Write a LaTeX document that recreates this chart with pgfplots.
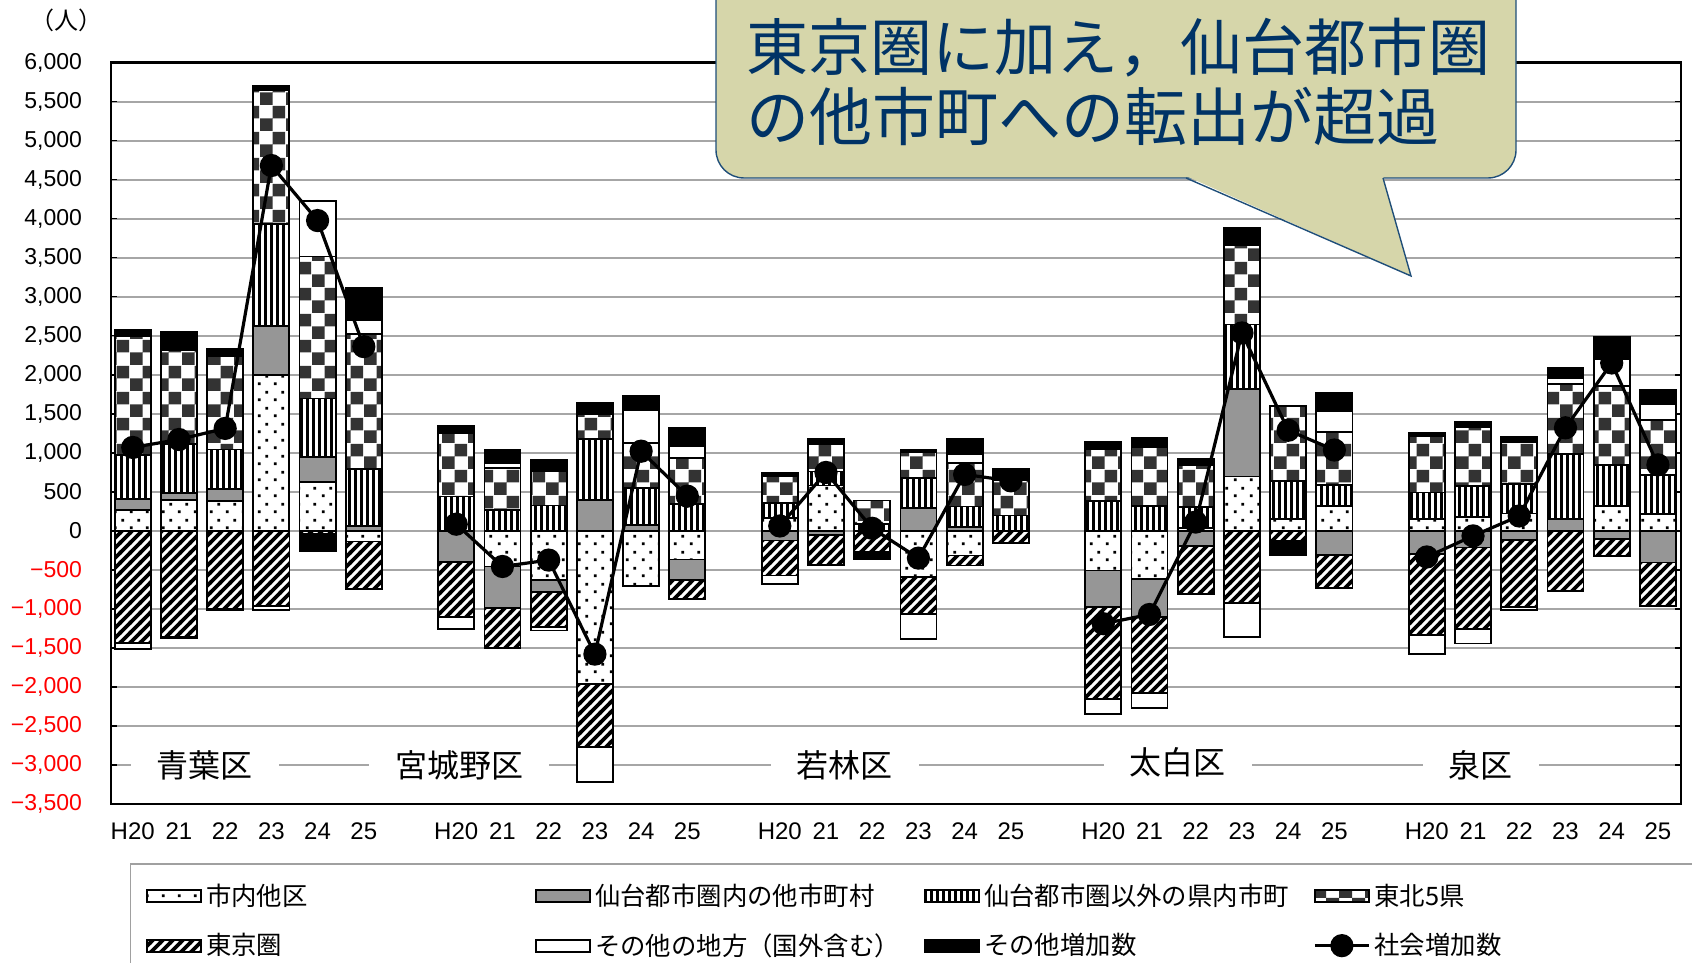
\documentclass[border=0pt]{standalone}
\usepackage{fontspec}
\setmainfont{Noto Sans CJK JP}
\newfontfamily\lsans{Liberation Sans}
\usepackage{pgfplots}
\usepackage{pgfplotstable}
\pgfplotsset{compat=1.18}
\usetikzlibrary{patterns}

\definecolor{gridc}{RGB}{166,166,166}
\definecolor{graybar}{RGB}{150,150,150}
\definecolor{checkc}{RGB}{51,51,51}
\definecolor{bubblefill}{RGB}{214,214,170}
\definecolor{bubbleline}{RGB}{31,78,121}
\definecolor{bubbletext}{RGB}{0,51,102}
\definecolor{legline}{RGB}{160,160,160}

\pgfdeclarepatternformonly{sdots}{\pgfqpoint{0pt}{0pt}}{\pgfqpoint{8pt}{8pt}}{\pgfqpoint{8pt}{8pt}}{%
 \pgfpathrectangle{\pgfqpoint{1pt}{1pt}}{\pgfqpoint{1.4pt}{1.4pt}}%
 \pgfpathrectangle{\pgfqpoint{5pt}{5pt}}{\pgfqpoint{1.4pt}{1.4pt}}%
 \pgfusepath{fill}}
\pgfdeclarepatternformonly{vlines}{\pgfqpoint{0pt}{-1pt}}{\pgfqpoint{3pt}{4pt}}{\pgfqpoint{3pt}{3pt}}{%
 \pgfpathrectangle{\pgfqpoint{0pt}{-1pt}}{\pgfqpoint{1.7pt}{5pt}}\pgfusepath{fill}}
\pgfdeclarepatternformonly{bigcheck}{\pgfqpoint{0pt}{0pt}}{\pgfqpoint{13pt}{13pt}}{\pgfqpoint{13pt}{13pt}}{%
 \pgfpathrectangle{\pgfqpoint{0pt}{0pt}}{\pgfqpoint{6.5pt}{6.5pt}}%
 \pgfpathrectangle{\pgfqpoint{6.5pt}{6.5pt}}{\pgfqpoint{6.5pt}{6.5pt}}%
 \pgfusepath{fill}}
\pgfdeclarepatternformonly{hatch}{\pgfqpoint{-1pt}{-1pt}}{\pgfqpoint{6pt}{6pt}}{\pgfqpoint{5pt}{5pt}}{%
 \pgfsetlinewidth{1.8pt}\pgfpathmoveto{\pgfqpoint{-1pt}{-1pt}}\pgfpathlineto{\pgfqpoint{6pt}{6pt}}\pgfusepath{stroke}}

\pgfplotsset{
 segbase/.style={draw=black, line width=0.9pt},
 segA/.style={segbase, fill=white, postaction={pattern=sdots}},
 segB/.style={segbase, fill=graybar},
 segC/.style={segbase, fill=white, postaction={pattern=vlines}},
 segD/.style={segbase, fill=white, postaction={pattern=bigcheck, pattern color=checkc}},
 segE/.style={segbase, fill=white, postaction={pattern=hatch}},
 segF/.style={segbase, fill=white},
 segG/.style={segbase, fill=black},
 barleg/.style={legend image code/.code={\draw[##1] (0pt,-3pt) rectangle (27pt,3pt);}},
 netleg/.style={legend image code/.code={\draw[##1,mark repeat=2,mark phase=2] plot coordinates {(0pt,0pt) (13.5pt,0pt) (27pt,0pt)};}},
 common/.style={
  at={(55.5pt,79.5pt)}, anchor=south west, scale only axis,
  width=785pt, height=370.75pt,
  xmin=-0.47, xmax=33.5, ymin=-3500, ymax=6000,
 },
}

\pgfplotstableread{
x A B C D E F G
0 270 137 565 1526 0 0 76
1 397 86 626 1211 0 0 224
2 382 152 509 1200 0 0 87
3 2000 625 1307 1715 0 0 56
4 626 320 748 1821 0 707 0
5 0 66 728 1724 0 178 422
7 0 0 440 812 0 0 90
8 0 0 269 539 0 60 175
9 0 0 325 440 0 0 145
10 0 397 783 320 0 0 141
11 0 77 470 577 0 419 184
12 0 0 346 586 0 149 235
14 167 0 188 342 0 0 47
15 581 0 180 354 0 0 65
16 0 0 90 299 0 0 0
17 0 295 385 329 0 0 30
18 0 47 265 560 0 107 201
19 0 0 197 448 0 0 150
21 0 0 385 664 0 0 88
22 0 0 319 756 0 0 120
23 31 0 279 531 0 0 75
24 695 1119 828 1018 0 0 221
25 155 0 487 960 0 0 0
26 319 0 265 686 0 265 226
28 150 0 342 726 0 0 34
29 180 0 397 748 0 0 73
30 222 0 376 535 0 0 72
31 0 150 833 898 0 72 128
32 321 0 525 1013 0 342 286
33 214 0 504 701 0 205 180
}\posdata

\pgfplotstableread{
x A B C D E F G
0 0 0 0 0 -1434 -77 0
1 0 0 0 0 -1360 -20 0
2 0 0 0 0 -1000 -20 0
3 0 0 0 0 -967 -50 0
4 0 0 0 0 -44 0 -210
5 -137 0 0 0 -611 0 0
7 0 -400 0 0 -707 -150 0
8 -457 -535 0 0 -508 0 0
9 -628 -158 0 0 -449 -43 0
10 -1962 0 0 0 -803 -458 0
11 -709 0 0 0 0 0 0
12 -368 -260 0 0 -244 0 0
14 0 -124 0 0 -449 -107 0
15 0 -51 0 0 -385 0 0
16 0 0 0 0 -274 0 -85
17 -594 0 0 0 -470 -325 0
18 -316 0 0 0 -128 0 0
19 0 0 0 0 -158 0 0
21 -509 -464 0 0 -1186 -186 0
22 -619 -487 0 0 -974 -185 0
23 0 -199 0 0 -611 0 0
24 0 0 0 0 -929 -429 0
25 0 0 0 0 -133 0 -177
26 0 -310 0 0 -420 0 0
28 0 -299 0 0 -1039 -243 0
29 0 -214 0 0 -1047 -184 0
30 0 -120 0 0 -854 -43 0
31 0 0 0 0 -769 0 0
32 0 -107 0 0 -214 0 0
33 0 -406 0 0 -556 0 0
}\negdata

\pgfplotstableread{
x y
0 1068
1 1170
2 1312
3 4680
4 3975
5 2360
6 nan
7 85
8 -457
9 -375
10 -1580
11 1020
12 444
13 nan
14 62
15 748
16 32
17 -350
18 722
19 640
20 nan
21 -1190
22 -1072
23 112
24 2535
25 1288
26 1035
27 nan
28 -335
29 -65
30 190
31 1320
32 2150
33 845
}\netdata

\begin{document}
\begin{tikzpicture}
\useasboundingbox (0,0) rectangle (846pt,481.5pt);

% positive stacks, frame, grid, ticks
\begin{axis}[common,
 ybar stacked, bar width=0.78,
 axis line style={line width=1.2pt},
 ymajorgrids, grid style={draw=gridc, line width=1pt},
 tick align=inside, major tick length=3pt,
 xtick style={draw=none},
 ytick style={black, line width=0.8pt},
 ytick={-3500,-3000,...,6000},
 yticklabels={{\textcolor{red}{−3,500}},{\textcolor{red}{−3,000}},{\textcolor{red}{−2,500}},{\textcolor{red}{−2,000}},{\textcolor{red}{−1,500}},{\textcolor{red}{−1,000}},{\textcolor{red}{−500}},{0},{500},{1,000},{1,500},{2,000},{2,500},{3,000},{3,500},{4,000},{4,500},{5,000},{5,500},{6,000}},
 yticklabel style={font=\lsans\fontsize{11.5}{13}\selectfont, anchor=east, xshift=-11pt},
 xtick={0,1,2,3,4,5,7,8,9,10,11,12,14,15,16,17,18,19,21,22,23,24,25,26,28,29,30,31,32,33},
 xticklabels={H20,21,22,23,24,25,H20,21,22,23,24,25,H20,21,22,23,24,25,H20,21,22,23,24,25,H20,21,22,23,24,25},
 xticklabel style={font=\lsans\fontsize{12}{14}\selectfont, anchor=center, yshift=-13.5pt},
]
\addplot[segA] table[x=x,y=A]{\posdata};
\addplot[segB] table[x=x,y=B]{\posdata};
\addplot[segC] table[x=x,y=C]{\posdata};
\addplot[segD] table[x=x,y=D]{\posdata};
\addplot[segE] table[x=x,y=E]{\posdata};
\addplot[segF] table[x=x,y=F]{\posdata};
\addplot[segG] table[x=x,y=G]{\posdata};
\node[fill=white, inner xsep=13pt, inner ysep=3pt, font=\fontsize{16}{18}\selectfont] at (axis cs:1.56,-3000) {青葉区};
\node[fill=white, inner xsep=13pt, inner ysep=3pt, font=\fontsize{16}{18}\selectfont] at (axis cs:7.06,-3000) {宮城野区};
\node[fill=white, inner xsep=13pt, inner ysep=3pt, font=\fontsize{16}{18}\selectfont] at (axis cs:15.41,-3000) {若林区};
\node[fill=white, inner xsep=13pt, inner ysep=3pt, font=\fontsize{16}{18}\selectfont] at (axis cs:22.61,-2960) {太白区};
\node[fill=white, inner xsep=13pt, inner ysep=3pt, font=\fontsize{16}{18}\selectfont] at (axis cs:29.17,-3000) {泉区};
\end{axis}

% negative stacks
\begin{axis}[common, hide axis, ybar stacked, bar width=0.78]
\addplot[segA] table[x=x,y=A]{\negdata};
\addplot[segB] table[x=x,y=B]{\negdata};
\addplot[segC] table[x=x,y=C]{\negdata};
\addplot[segD] table[x=x,y=D]{\negdata};
\addplot[segE] table[x=x,y=E]{\negdata};
\addplot[segF] table[x=x,y=F]{\negdata};
\addplot[segG] table[x=x,y=G]{\negdata};
\end{axis}

% net line and legend
\begin{axis}[common, hide axis,
 legend columns=4,
 legend style={at={(0.0118,-0.0796)}, anchor=north west, draw=legline, line width=0.8pt,
   font=\fontsize{12.7}{14}\selectfont, row sep=8.5pt, inner xsep=8pt, inner ysep=8pt},
 legend cell align=left,
]
\addlegendimage{segA, barleg}
\addlegendimage{segB, barleg}
\addlegendimage{segC, barleg}
\addlegendimage{segD, barleg}
\addlegendimage{segE, barleg}
\addlegendimage{segF, barleg}
\addlegendimage{segG, barleg}
\addplot[black, line width=1.6pt, mark=*, mark size=5pt, unbounded coords=jump, netleg]
  table[x=x,y=y]{\netdata};
\legend{\makebox[162.6pt][l]{市内他区},\makebox[162.6pt][l]{仙台都市圏内の他市町村},\makebox[162.6pt][l]{仙台都市圏以外の県内市町},\makebox[162.6pt][l]{東北5県},\makebox[162.6pt][l]{東京圏},\makebox[162.6pt][l]{その他の地方（国外含む）},\makebox[162.6pt][l]{その他増加数},\makebox[162.6pt][l]{社会増加数}}
\end{axis}

% unit label and callout
\begin{scope}[shift={(0pt,481.5pt)}, x=0.5pt, y=-0.5pt]
\node[font=\fontsize{12}{14}\selectfont] at (66,20) {（人）};
\filldraw[fill=bubblefill, draw=bubbleline, line width=0.7pt, rounded corners=14pt] (716,-40) rectangle (1516,178);
\fill[bubblefill] (1186,176) -- (1411,276) -- (1383,176) -- cycle;
\draw[bubbleline, line width=0.7pt] (1186,178) -- (1411,276) -- (1383,178);
\node[anchor=west, text=bubbletext, font=\fontsize{31}{34}\selectfont, inner sep=0pt] at (746,48) {東京圏に加え，仙台都市圏};
\node[anchor=west, text=bubbletext, font=\fontsize{31.5}{34}\selectfont, inner sep=0pt] at (746,116) {の他市町への転出が超過};
\end{scope}
\end{tikzpicture}
\end{document}
